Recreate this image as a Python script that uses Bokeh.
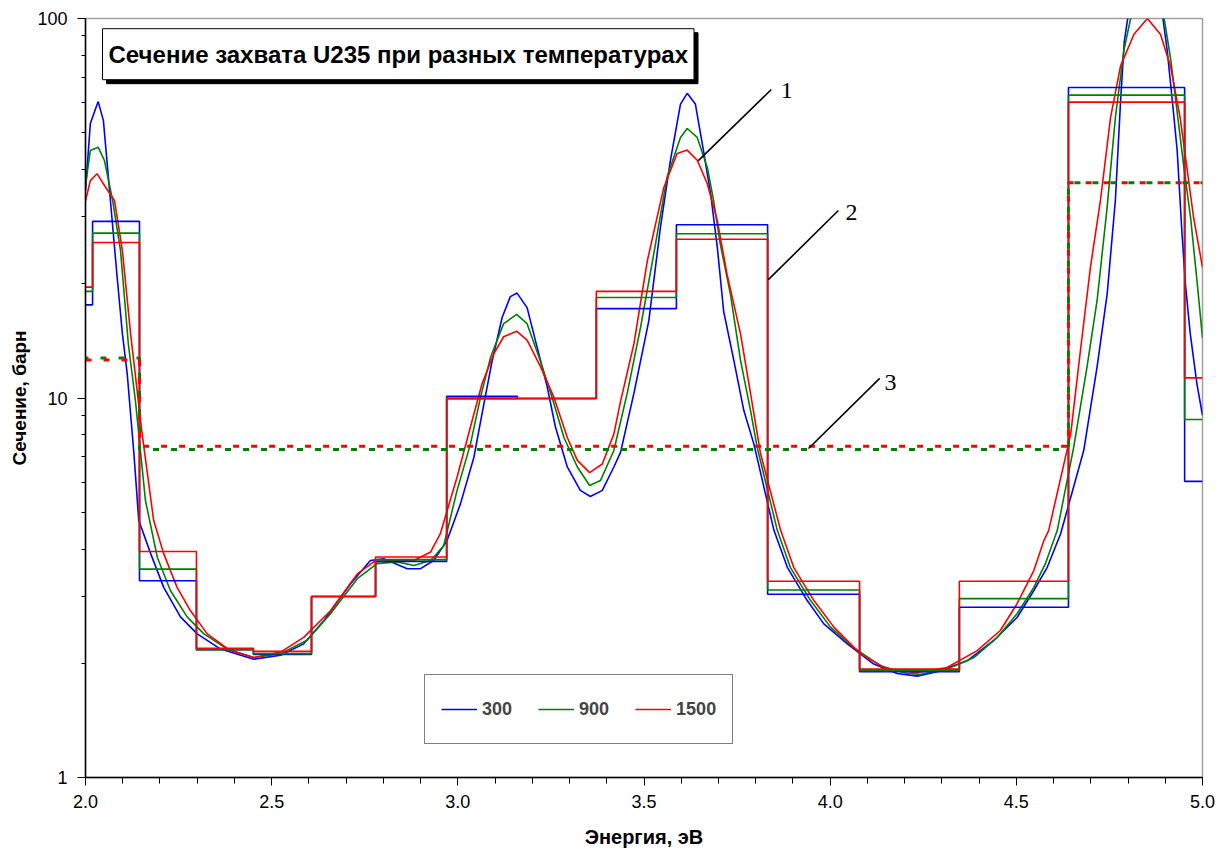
from bokeh.plotting import figure
from bokeh.models import Range1d, FixedTicker, Legend, LegendItem, Label
from bokeh.embed import file_html
from bokeh.resources import INLINE

# ---------------- data ----------------
temps = ["300", "900", "1500"]
colors = ["#0000FF", "#008000", "#FF0000"]

# continuous cross-section curves (energy, barn)
e_300 = [2.000, 2.013, 2.034, 2.048, 2.067, 2.085, 2.099, 2.112, 2.130, 2.143, 2.175, 2.210, 2.255, 2.300,
         2.363, 2.452, 2.524, 2.586, 2.640, 2.712, 2.765, 2.801, 2.864, 2.900, 2.935, 2.971, 3.007, 3.043,
         3.070, 3.092, 3.119, 3.141, 3.159, 3.186, 3.213, 3.240, 3.262, 3.294, 3.329, 3.356, 3.388, 3.419,
         3.437, 3.473, 3.513, 3.544, 3.571, 3.598, 3.616, 3.638, 3.661, 3.679, 3.697, 3.714, 3.741, 3.768,
         3.795, 3.849, 3.885, 3.938, 3.983, 4.046, 4.117, 4.180, 4.234, 4.296, 4.368, 4.440, 4.502, 4.547,
         4.583, 4.619, 4.681, 4.717, 4.744, 4.766, 4.780, 4.790, 4.810, 4.847, 4.884, 4.905, 4.919, 4.932,
         4.945, 4.954, 4.967, 4.985, 5.000]
s_300 = [35.2, 52.9, 60.4, 53.9, 33.1, 20.8, 14.8, 11.6, 7.14, 4.76, 3.89, 3.17, 2.65, 2.39,
         2.18, 2.05, 2.10, 2.25, 2.59, 3.24, 3.73, 3.77, 3.55, 3.55, 3.73, 4.21, 5.26, 6.97,
         9.65, 12.5, 16.3, 18.5, 18.9, 17.3, 13.6, 10.7, 8.40, 6.58, 5.71, 5.50, 5.71, 6.58,
         7.19, 10.3, 16.0, 28.1, 42.3, 59.5, 63.5, 59.5, 44.1, 34.5, 24.9, 16.9, 12.6, 9.28,
         7.57, 4.48, 3.58, 2.93, 2.54, 2.25, 1.99, 1.88, 1.85, 1.91, 2.03, 2.30, 2.64, 3.11,
         3.58, 4.39, 7.27, 12.1, 18.8, 33.2, 60.7, 87.1, 118.0, 135.0, 118.0, 82.6, 60.7, 44.9,
         27.1, 20.0, 14.8, 10.9, 9.0]

e_900 = [2.000, 2.013, 2.034, 2.051, 2.073, 2.094, 2.115, 2.134, 2.161, 2.193, 2.228, 2.273, 2.318, 2.381,
         2.452, 2.524, 2.595, 2.658, 2.730, 2.783, 2.837, 2.882, 2.927, 2.962, 2.998, 3.034, 3.061, 3.088,
         3.123, 3.158, 3.186, 3.222, 3.253, 3.285, 3.321, 3.354, 3.383, 3.419, 3.455, 3.491, 3.526, 3.562,
         3.598, 3.616, 3.643, 3.670, 3.687, 3.705, 3.732, 3.759, 3.786, 3.804, 3.858, 3.893, 3.947, 4.001,
         4.063, 4.135, 4.207, 4.243, 4.314, 4.386, 4.449, 4.502, 4.547, 4.578, 4.610, 4.654, 4.690, 4.717,
         4.744, 4.766, 4.789, 4.807, 4.850, 4.897, 4.915, 4.933, 4.950, 4.968, 4.986, 5.000]
s_900 = [36.3, 44.9, 45.8, 42.2, 33.1, 24.5, 13.9, 9.85, 5.37, 3.80, 3.11, 2.65, 2.39, 2.18,
         2.07, 2.12, 2.30, 2.70, 3.34, 3.66, 3.70, 3.62, 3.73, 4.08, 5.71, 7.57, 10.05, 12.8,
         15.7, 16.6, 15.7, 12.5, 10.05, 7.87, 6.58, 5.88, 6.06, 7.27, 10.3, 15.4, 23.9, 38.2,
         48.6, 51.3, 48.6, 40.5, 33.1, 25.4, 18.8, 12.6, 9.28, 7.41, 4.48, 3.58, 2.93, 2.49,
         2.20, 1.97, 1.88, 1.87, 1.93, 2.07, 2.34, 2.70, 3.17, 3.66, 4.48, 7.41, 12.1, 18.1,
         31.9, 54.8, 82.6, 100.0, 112.0, 100.0, 77.6, 55.6, 40.5, 29.9, 20.0, 14.4]

e_1500 = [2.000, 2.013, 2.031, 2.051, 2.078, 2.099, 2.121, 2.152, 2.183, 2.210, 2.246, 2.282, 2.327, 2.389,
          2.452, 2.524, 2.586, 2.658, 2.730, 2.774, 2.819, 2.882, 2.927, 2.953, 2.998, 3.034, 3.065, 3.097,
          3.123, 3.158, 3.186, 3.222, 3.258, 3.294, 3.321, 3.354, 3.388, 3.419, 3.437, 3.473, 3.509, 3.553,
          3.589, 3.616, 3.643, 3.670, 3.697, 3.723, 3.759, 3.786, 3.813, 3.867, 3.902, 3.956, 4.010, 4.081,
          4.153, 4.234, 4.314, 4.395, 4.457, 4.502, 4.547, 4.574, 4.587, 4.646, 4.672, 4.699, 4.726, 4.753,
          4.780, 4.816, 4.852, 4.887, 4.914, 4.940, 4.958, 4.976, 5.000]
s_1500 = [33.1, 37.4, 39.0, 36.3, 33.1, 24.5, 14.8, 8.06, 4.76, 3.89, 3.17, 2.75, 2.39, 2.16,
          2.07, 2.14, 2.34, 2.75, 3.44, 3.70, 3.73, 3.73, 3.93, 4.39, 6.19, 8.40, 10.9, 13.1,
          14.5, 15.0, 14.2, 12.1, 10.05, 7.87, 6.85, 6.36, 6.70, 8.03, 9.8, 13.9, 23.0, 35.8,
          44.1, 45.0, 42.3, 36.7, 29.3, 21.2, 14.8, 10.3, 7.14, 4.48, 3.58, 2.93, 2.49, 2.12,
          1.93, 1.89, 1.95, 2.16, 2.44, 2.87, 3.51, 4.21, 4.48, 8.03, 13.3, 22.1, 33.2, 54.8,
          75.0, 90.9, 100.0, 90.9, 75.0, 54.8, 40.5, 29.9, 22.1]

# group-averaged cross sections (line 2)
step_edges = [2.000, 2.019, 2.145, 2.298, 2.451, 2.607, 2.779, 2.970, 3.160, 3.372, 3.587, 3.832,
              4.079, 4.347, 4.640, 4.952, 5.000]
step_300 = [17.6, 29.2, 3.30, 2.17, 2.11, 3.00, 3.71, 10.1, 9.97, 17.2, 28.6, 3.04, 1.90, 2.81, 65.8, 6.03]
step_900 = [19.1, 27.2, 3.54, 2.17, 2.12, 3.00, 3.75, 10.0, 9.97, 18.4, 27.1, 3.12, 1.915, 2.96, 62.8, 8.78]
step_1500 = [19.6, 25.7, 3.94, 2.19, 2.15, 3.00, 3.81, 9.95, 9.97, 19.1, 26.2, 3.29, 1.93, 3.29, 60.2, 11.3]

# coarse-group averages (line 3)
group_edges = [2.000, 2.145, 4.640, 5.000]
group_900 = [12.75, 7.32, 36.9]
group_1500 = [12.6, 7.46, 36.9]

x_ticks = [2.0, 2.5, 3.0, 3.5, 4.0, 4.5, 5.0]
x_tick_labels = ["2.0", "2.5", "3.0", "3.5", "4.0", "4.5", "5.0"]
y_ticks = [1, 10, 100]
y_tick_labels = ["1", "10", "100"]

title_text = "Сечение захвата U235 при разных температурах"
x_title = "Энергия, эВ"
y_title = "Сечение, барн"

# annotation positions (data units)
ann_lines = [((3.646, 42.2), (3.842, 65.0)),
             ((3.834, 20.5), (4.022, 31.2)),
             ((3.942, 7.36), (4.133, 11.26))]
ann_texts = [("1", 3.867, 64.6), ("2", 4.041, 30.8), ("3", 4.146, 10.98)]

# ---------------- figure ----------------
p = figure(width=1216, height=850, x_range=Range1d(2, 5), y_range=Range1d(1, 100),
           y_axis_type="log", output_backend="svg", toolbar_location=None,
           min_border_left=85, min_border_right=14, min_border_top=18, min_border_bottom=73)
p.xgrid.visible = False
p.ygrid.visible = False
p.outline_line_color = "#a0a0a0"
p.outline_line_width = 1.5
p.background_fill_color = "white"

font = "Liberation Sans"

curves = []
for e, s, c in zip([e_300, e_900, e_1500], [s_300, s_900, s_1500], colors):
    curves.append(p.line(e, s, line_color=c, line_width=1.6))

for vals, c in zip([step_300, step_900, step_1500], colors):
    p.step(step_edges, vals + [vals[-1]], mode="after", line_color=c, line_width=1.6)

p.step(group_edges, group_900 + [group_900[-1]], mode="after", line_color=colors[1],
       line_width=3, line_dash="6 12", line_dash_offset=3)
p.step(group_edges, group_1500 + [group_1500[-1]], mode="after", line_color=colors[2],
       line_width=3, line_dash="6 12")

for (a, b) in ann_lines:
    p.line([a[0], b[0]], [a[1], b[1]], line_color="black", line_width=1.6)
for t, x, y in ann_texts:
    p.add_layout(Label(x=x, y=y, text=t, text_font="Liberation Serif", text_font_size="24px",
                       text_baseline="middle", text_align="left", text_color="black"))

# title box with shadow
shadow = Label(x=2.0457, y=94.0, text=title_text, text_font=font, text_font_size="24px",
               text_font_style="bold", text_color="black", background_fill_color="black",
               border_line_color="black", padding=(6, 12), anchor="top_left", x_offset=4, y_offset=-4)
title = Label(x=2.0457, y=94.0, text=title_text, text_font=font, text_font_size="24px",
              text_font_style="bold", text_color="black", background_fill_color="white",
              border_line_color="black", border_line_width=1, padding=(6, 12), anchor="top_left")
p.add_layout(shadow)
p.add_layout(title)

# axes
p.xaxis.ticker = FixedTicker(ticks=x_ticks, minor_ticks=[round(2 + 0.1 * i, 1) for i in range(31)])
p.xaxis.major_label_overrides = {t: l for t, l in zip(x_ticks, x_tick_labels)}
p.yaxis.ticker = FixedTicker(ticks=y_ticks,
                             minor_ticks=[m * d for d in (1, 10) for m in range(2, 10)])
p.yaxis.major_label_overrides = {t: l for t, l in zip(y_ticks, y_tick_labels)}

for ax in (p.xaxis[0], p.yaxis[0]):
    ax.axis_line_color = "black"
    ax.axis_line_width = 1.5
    ax.major_tick_line_color = "black"
    ax.minor_tick_line_color = "black"
    ax.major_tick_in = 0
    ax.minor_tick_in = 0
    ax.major_tick_out = 8
    ax.major_label_text_font = font
    ax.major_label_text_color = "black"
    ax.axis_label_text_font = font
    ax.axis_label_text_font_style = "bold"
    ax.axis_label_text_color = "black"

p.xaxis.axis_label_text_font_size = "20px"
p.yaxis.axis_label_text_font_size = "19px"
p.xaxis.minor_tick_out = 6
p.yaxis.minor_tick_out = 4
p.xaxis.major_label_text_font_size = "18px"
p.yaxis.major_label_text_font_size = "18px"
p.xaxis.major_label_standoff = 9
p.yaxis.major_label_standoff = 10
p.xaxis.axis_label = x_title
p.yaxis.axis_label = y_title
p.xaxis.axis_label_standoff = 15
p.yaxis.axis_label_standoff = 4

legend = Legend(items=[LegendItem(label=t, renderers=[r]) for t, r in zip(temps, curves)],
                orientation="horizontal", location=(339, 33),
                label_text_font=font, label_text_font_style="bold", label_text_font_size="18px",
                glyph_width=36, glyph_height=36, label_height=36, label_standoff=5, spacing=26,
                padding=16, margin=0, border_line_color="black", border_line_width=1,
                background_fill_color="white", background_fill_alpha=1)
p.add_layout(legend, "center")

open("out.html", "w").write(file_html(p, INLINE))
